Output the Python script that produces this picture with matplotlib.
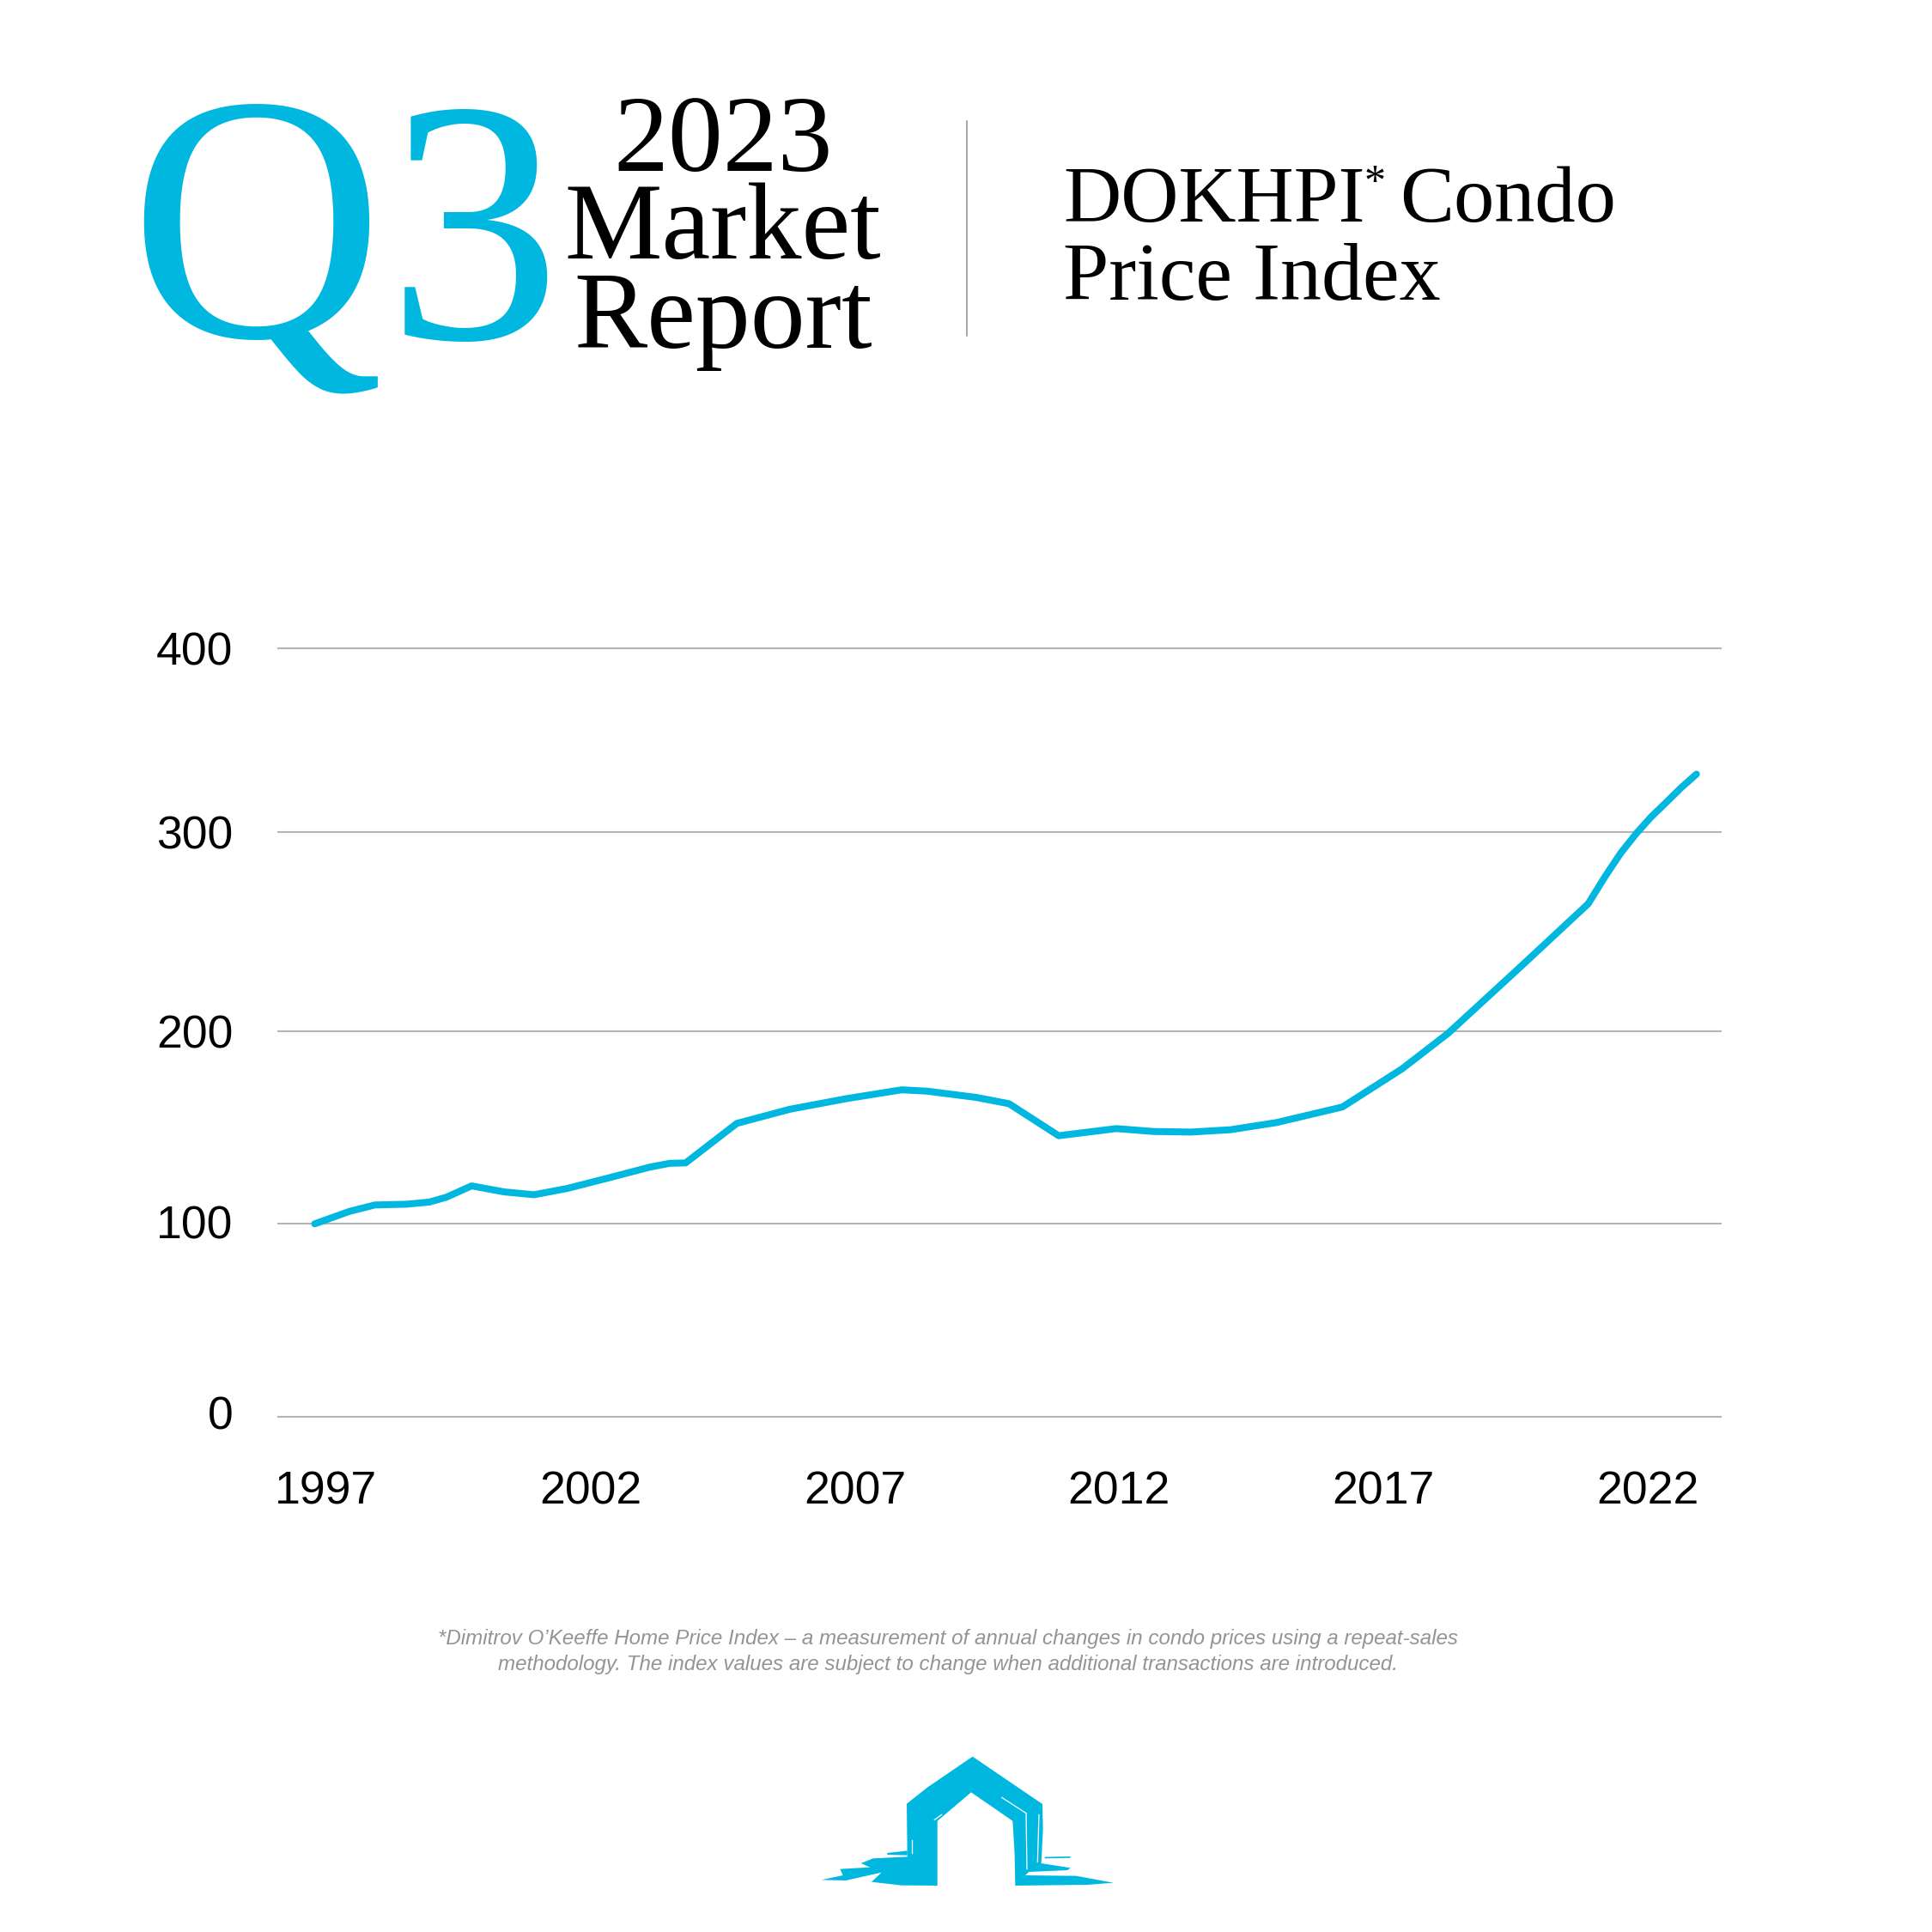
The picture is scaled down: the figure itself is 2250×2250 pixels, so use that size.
import numpy as np
import matplotlib
matplotlib.use("Agg")
import matplotlib.pyplot as plt
from matplotlib.patches import Polygon
from matplotlib.transforms import ScaledTranslation

# ---------- data ----------
years = [1996.78, 1997.43, 1997.92, 1998.52, 1998.95, 1999.27, 1999.75, 2000.36, 2000.93,
         2001.55, 2002.31, 2003.12, 2003.50, 2003.80, 2004.77, 2005.77, 2006.86, 2007.89,
         2008.37, 2009.29, 2009.92, 2010.86, 2011.95, 2012.65, 2013.36, 2014.11, 2014.98,
         2016.23, 2017.36, 2018.23, 2019.53, 2020.88, 2021.21, 2021.50, 2021.80, 2022.07,
         2022.35, 2022.64, 2022.93]
index_values = [100.0, 106.4, 109.8, 110.2, 111.3, 113.8, 119.7, 116.6, 115.1,
                118.3, 123.6, 129.4, 131.4, 131.6, 152.1, 159.4, 165.0, 169.5,
                168.8, 165.6, 162.3, 145.7, 149.4, 147.9, 147.6, 148.8, 152.5,
                160.6, 180.4, 198.8, 230.5, 263.8, 277.9, 289.4, 299.4, 308.0,
                315.8, 324.0, 331.4]
x_ticks = [1997, 2002, 2007, 2012, 2017, 2022]
y_ticks = [0, 100, 200, 300, 400]
# The original's y gridlines are unevenly spaced; these are their relative positions.
y_scale_pos = [0, 100.2, 200.2, 303.5, 398.6]

CYAN = "#00b8df"
W = 2250
fig = plt.figure(figsize=(22.5, 22.5), dpi=100, facecolor="white")

# ---------- chart ----------
L, R, T, B = 324, 2004, 755, 1650.4
ax = fig.add_axes([L / W, 1 - B / W, (R - L) / W, (B - T) / W])
fwd = lambda v: np.interp(v, y_ticks, y_scale_pos, left=None, right=None)
inv = lambda v: np.interp(v, y_scale_pos, y_ticks)
ax.set_yscale("function", functions=(fwd, inv))
ax.set_ylim(0, 400)
ax.set_xlim(1996.09, 2023.39)
ax.plot(years, index_values, color=CYAN, lw=5.8, solid_capstyle="round",
        solid_joinstyle="round", zorder=3)
for s in ax.spines.values():
    s.set_visible(False)
ax.set_xticks(x_ticks)
ax.set_yticks(y_ticks)
ax.minorticks_off()
ax.grid(axis="y", color="#b4b4b4", lw=1.5)
ax.set_axisbelow(True)
for g in ax.get_ygridlines():
    g.set_clip_on(False)
ax.tick_params(axis="both", length=0, labelcolor="black")
ax.tick_params(axis="y", pad=38)
ax.tick_params(axis="x", pad=45)
for lb in ax.get_xticklabels() + ax.get_yticklabels():
    lb.set_fontfamily("Liberation Sans")
    lb.set_fontsize(38.5)
# the two lowest y labels sit slightly above their gridlines in the original
for lb, up in zip(ax.get_yticklabels(), [4.0, 1.5, 0, -0.5, 0]):
    lb.set_transform(lb.get_transform() + ScaledTranslation(0, up / 72, fig.dpi_scale_trans))

# ---------- page overlay in pixel coordinates ----------
pg = fig.add_axes([0, 0, 1, 1], facecolor="none")
pg.set_xlim(0, W)
pg.set_ylim(W, 0)
pg.axis("off")

SERIF = "Liberation Serif"
pg.text(150, 392, "Q", family=SERIF, fontsize=295, color=CYAN, va="baseline", ha="left")
pg.text(451, 394, "3", family=SERIF, fontsize=291, color=CYAN, va="baseline", ha="left")
pg.text(842, 199, "2023", family=SERIF, fontsize=92, color="black", va="baseline", ha="center")
pg.text(842, 301, "Market", family=SERIF, fontsize=92, color="black", va="baseline", ha="center")
pg.text(842, 405, "Report", family=SERIF, fontsize=92, color="black", va="baseline", ha="center")
pg.plot([1126, 1126], [141, 391], color="#8f8f8f", lw=1.1)
pg.text(1238, 258, "DOKHPI", family=SERIF, fontsize=67, color="black", va="baseline", ha="left")
pg.text(1589, 226, "*", family=SERIF, fontsize=36, color="black", va="baseline", ha="left")
pg.text(1630, 258, "Condo", family=SERIF, fontsize=68, color="black", va="baseline", ha="left")
pg.text(1238, 349, "Price Index", family=SERIF, fontsize=69, color="black", va="baseline", ha="left")

foot = ["*Dimitrov O’Keeffe Home Price Index – a measurement of annual changes in condo prices using a repeat-sales",
        "methodology. The index values are subject to change when additional transactions are introduced."]
for txt, yy in zip(foot, [1915, 1945]):
    pg.text(1104, yy, txt, family="Liberation Sans", style="italic", fontsize=17.4,
            color="#949494", va="baseline", ha="center")

logo_main = [(698, 47), (942, 213), (944, 300), (938, 420), (1040, 436), (1030, 444), (895, 450),
             (882, 462), (1060, 464), (1190, 488), (1100, 495), (847, 498), (845, 390), (838, 272),
             (693, 172), (575, 272), (575, 498), (450, 497), (345, 485), (380, 452), (255, 480),
             (170, 478), (245, 462), (235, 440), (340, 434), (308, 420), (350, 403), (470, 397),
             (468, 212), (540, 155)]
logo_bits = [[(950, 398), (1040, 396), (1040, 401), (950, 403)],
             [(400, 384), (470, 376), (470, 392), (400, 390)]]
logo_cuts = [[(800, 190), (885, 245)], [(885, 245), (888, 440)], [(565, 268), (590, 250)],
             [(930, 250), (925, 415)], [(486, 340), (486, 385)]]
tf = lambda pts: [(900 + x / 3, 2030 + y / 3) for x, y in pts]
pg.add_patch(Polygon(tf(logo_main), closed=True, fc=CYAN, ec="none"))
for b in logo_bits:
    pg.add_patch(Polygon(tf(b), closed=True, fc=CYAN, ec="none"))
for c in logo_cuts:
    xs, ys = zip(*tf(c))
    pg.plot(xs, ys, color="white", lw=0.9)

fig.savefig("out.png", dpi=100, facecolor="white")
